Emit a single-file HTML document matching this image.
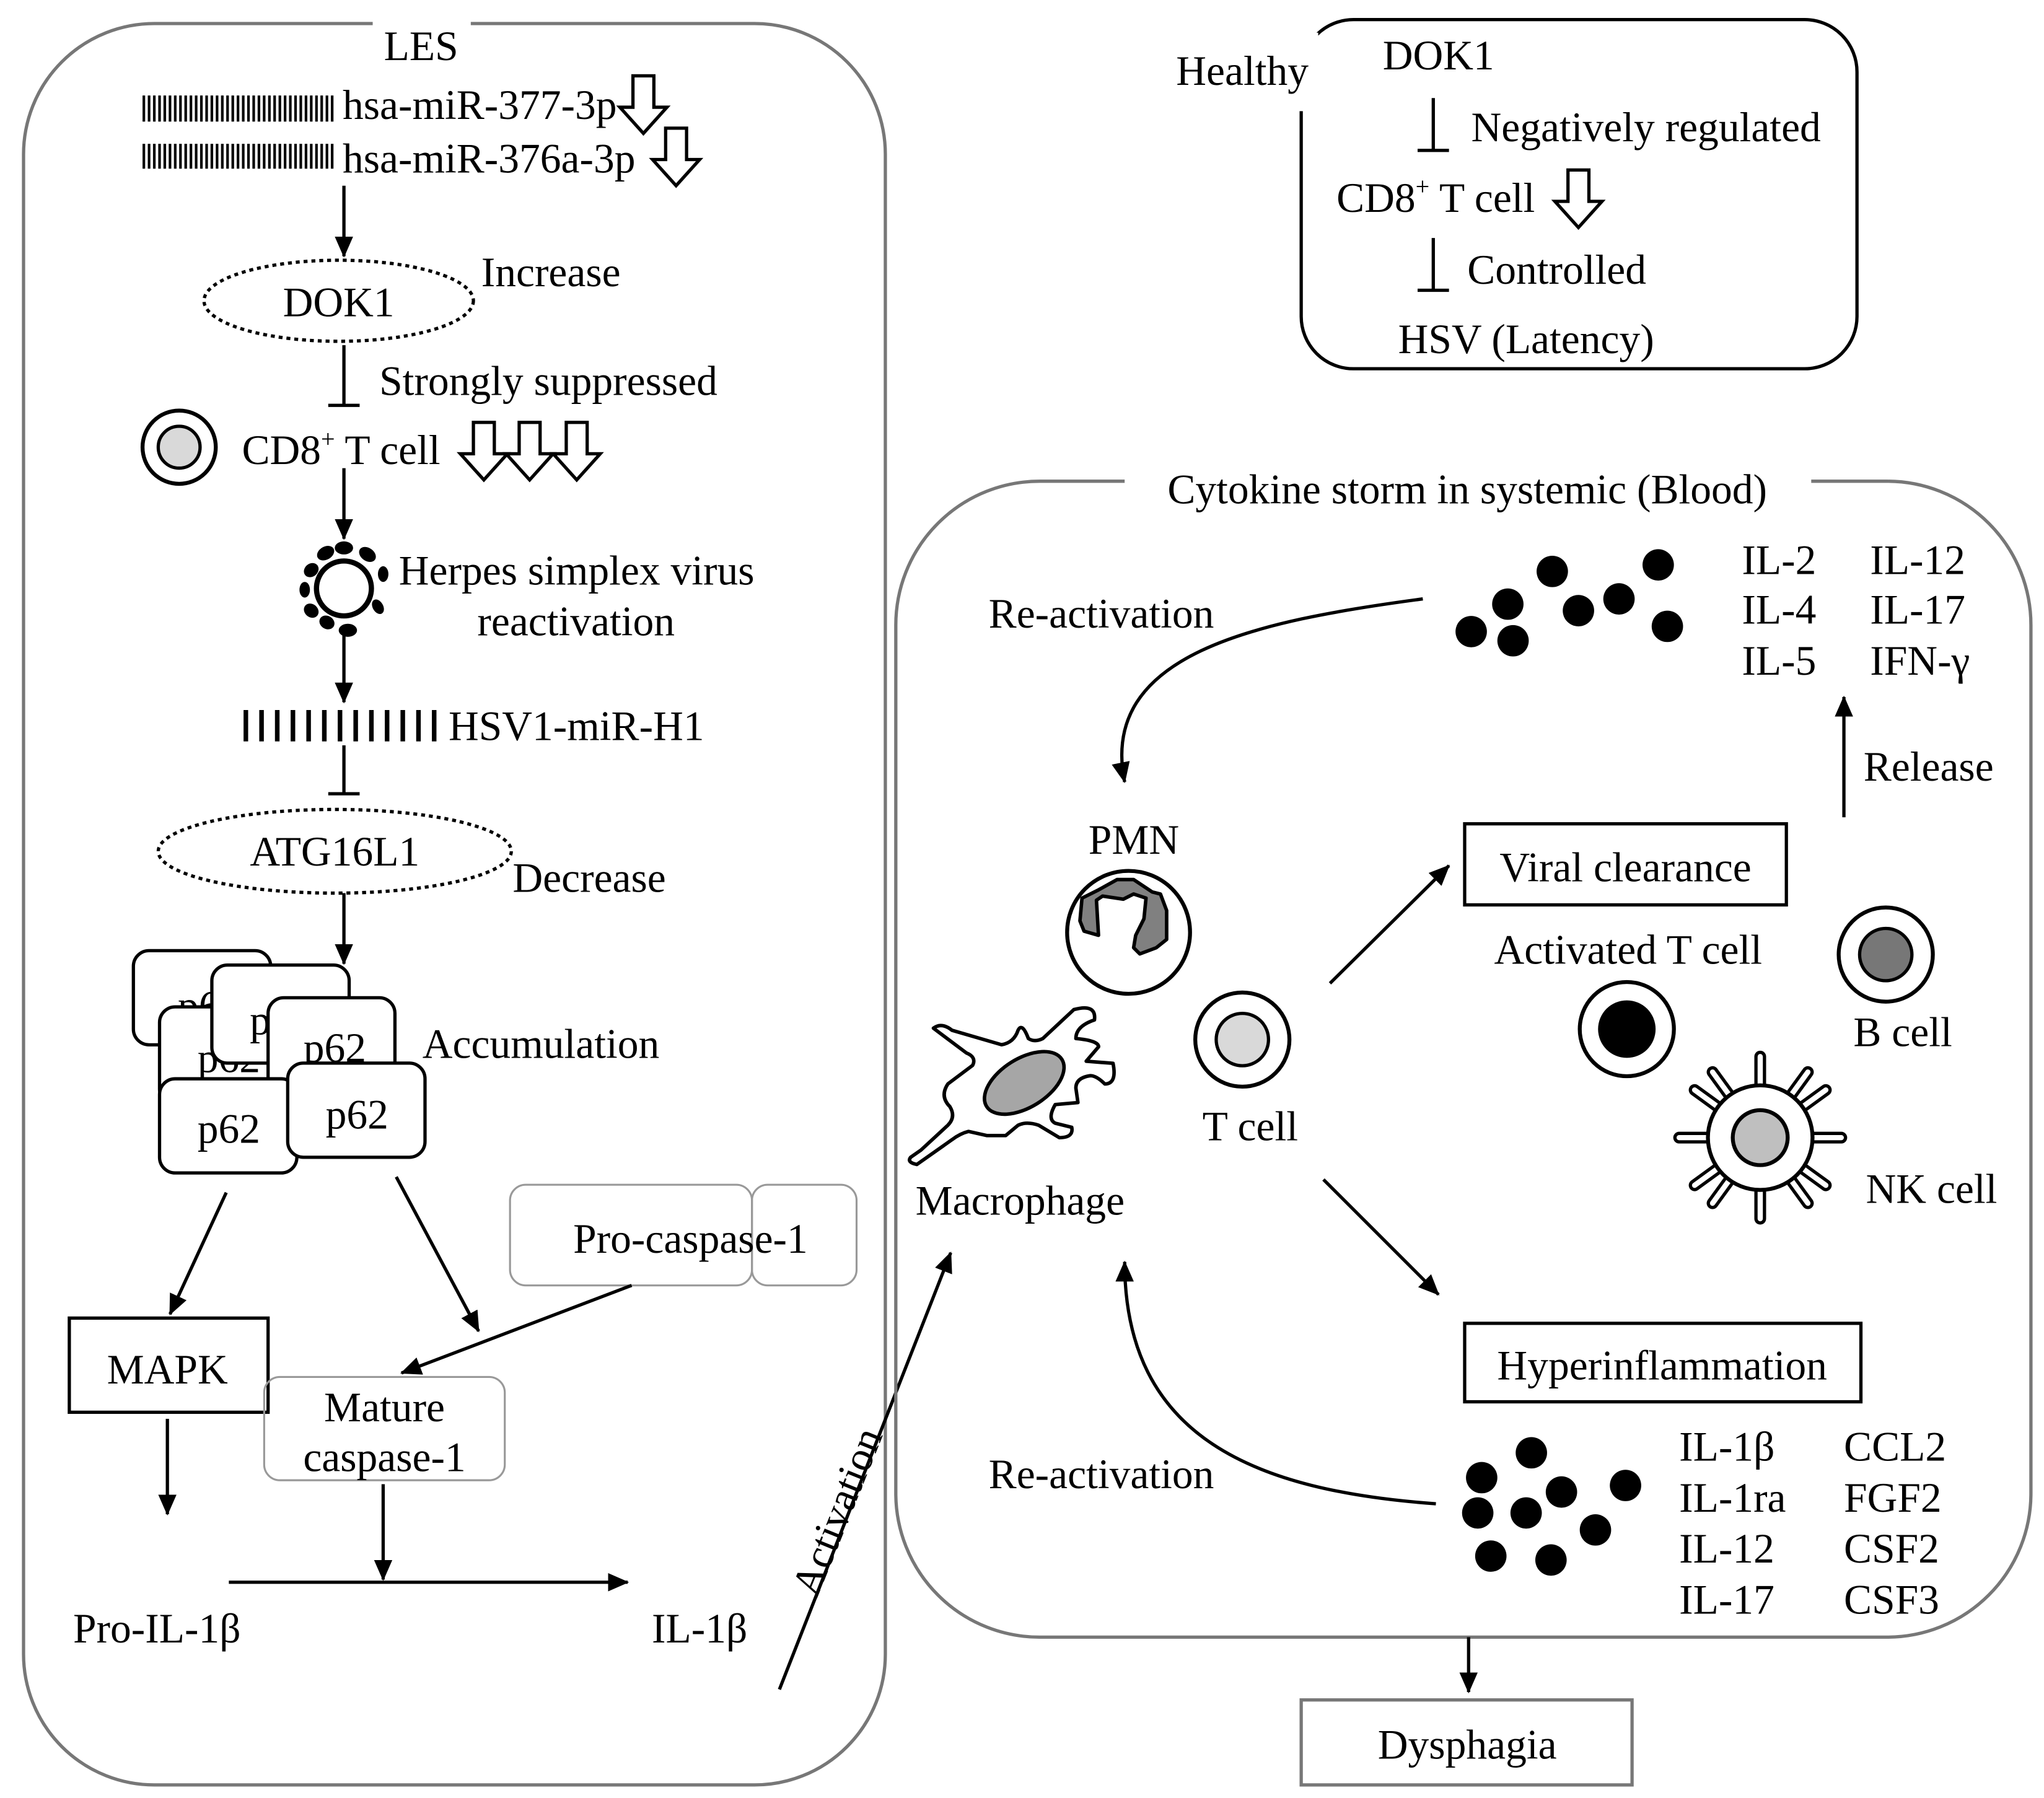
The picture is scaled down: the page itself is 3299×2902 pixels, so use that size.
<!DOCTYPE html>
<html><head><meta charset="utf-8"><style>html,body{margin:0;padding:0;background:#fff}svg{display:block}text{font-family:"Liberation Serif",serif;font-size:32px;fill:#000}</style></head><body>
<svg width="3299" height="2902" viewBox="0 0 1563 1375" preserveAspectRatio="none" xmlns="http://www.w3.org/2000/svg">
<defs>
<marker id="arb" markerWidth="16" markerHeight="14" refX="15" refY="7" orient="auto" markerUnits="userSpaceOnUse"><path d="M0,0 L16,7 L0,14 z" fill="#000"/></marker>
<path id="ha" d="M-8,0 h16 v24 h10 l-18,20 l-18,-20 h10 z" fill="#fff" stroke="#000" stroke-width="2.5"/>
</defs>
<rect width="1563" height="1375" fill="#fff"/>
<rect x="18" y="18" width="659" height="1347" rx="100" fill="none" stroke="#777" stroke-width="2.5"/>
<rect x="285" y="10" width="75" height="20" fill="#fff"/>
<text x="322" y="46" text-anchor="middle">LES</text>
<g stroke="#000" stroke-width="2">
<path d="M110,73 v20 M114,73 v20 M118,73 v20 M122,73 v20 M126,73 v20 M130,73 v20 M134,73 v20 M138,73 v20 M142,73 v20 M146,73 v20 M150,73 v20 M154,73 v20 M158,73 v20 M162,73 v20 M166,73 v20 M170,73 v20 M174,73 v20 M178,73 v20 M182,73 v20 M186,73 v20 M190,73 v20 M194,73 v20 M198,73 v20 M202,73 v20 M206,73 v20 M210,73 v20 M214,73 v20 M218,73 v20 M222,73 v20 M226,73 v20 M230,73 v20 M234,73 v20 M238,73 v20 M242,73 v20 M246,73 v20 M250,73 v20 M254,73 v20"/>
<path d="M110,110 v19 M114,110 v19 M118,110 v19 M122,110 v19 M126,110 v19 M130,110 v19 M134,110 v19 M138,110 v19 M142,110 v19 M146,110 v19 M150,110 v19 M154,110 v19 M158,110 v19 M162,110 v19 M166,110 v19 M170,110 v19 M174,110 v19 M178,110 v19 M182,110 v19 M186,110 v19 M190,110 v19 M194,110 v19 M198,110 v19 M202,110 v19 M206,110 v19 M210,110 v19 M214,110 v19 M218,110 v19 M222,110 v19 M226,110 v19 M230,110 v19 M234,110 v19 M238,110 v19 M242,110 v19 M246,110 v19 M250,110 v19 M254,110 v19"/>
</g>
<g stroke="#000" stroke-width="3.5">
<path d="M188,543 v24 M200,543 v24 M212,543 v24 M224,543 v24 M236,543 v24 M248,543 v24 M260,543 v24 M272,543 v24 M284,543 v24 M296,543 v24 M308,543 v24 M320,543 v24 M332,543 v24"/>
</g>
<text x="262" y="91">hsa-miR-377-3p</text>
<use href="#ha" x="492" y="58"/>
<text x="262" y="132">hsa-miR-376a-3p</text>
<use href="#ha" x="517" y="98"/>
<line x1="263" y1="142" x2="263" y2="196" stroke="#000" stroke-width="2.5" marker-end="url(#arb)"/>
<ellipse cx="259" cy="230" rx="103" ry="31" fill="none" stroke="#000" stroke-width="2.5" stroke-dasharray="3,3"/>
<text x="259" y="242" text-anchor="middle">DOK1</text>
<text x="368" y="219">Increase</text>
<path d="M263,264 V310 M251,310 H275" stroke="#000" stroke-width="2.5"/>
<text x="290" y="302">Strongly suppressed</text>
<circle cx="137" cy="342" r="28" fill="#fff" stroke="#000" stroke-width="3"/>
<circle cx="137" cy="342" r="16" fill="#d9d9d9" stroke="#000" stroke-width="2.5"/>
<text x="185" y="355">CD8<tspan font-size="19" dy="-13">+</tspan><tspan dy="13"> T cell</tspan></text>
<use href="#ha" x="370" y="323"/><use href="#ha" x="405" y="323"/><use href="#ha" x="441" y="323"/>
<line x1="263" y1="358" x2="263" y2="412" stroke="#000" stroke-width="2.5" marker-end="url(#arb)"/>
<g fill="#000">
<circle cx="263" cy="450" r="21" fill="#fff" stroke="#000" stroke-width="4"/>
<ellipse cx="263" cy="419" rx="7" ry="5"/><ellipse cx="281" cy="424" rx="7" ry="5" transform="rotate(35 281 424)"/><ellipse cx="293" cy="439" rx="4" ry="6"/><ellipse cx="289" cy="464" rx="4" ry="6" transform="rotate(-30 289 464)"/><ellipse cx="266" cy="482" rx="7" ry="5"/><ellipse cx="250" cy="476" rx="6" ry="5" transform="rotate(30 250 476)"/><ellipse cx="238" cy="467" rx="6" ry="5" transform="rotate(40 238 467)"/><ellipse cx="233" cy="451" rx="4" ry="6"/><ellipse cx="238" cy="436" rx="6" ry="5" transform="rotate(-40 238 436)"/><ellipse cx="249" cy="423" rx="7" ry="5" transform="rotate(-30 249 423)"/>
</g>
<text x="305" y="447">Herpes simplex virus</text>
<text x="365" y="486">reactivation</text>
<line x1="263" y1="482" x2="263" y2="537" stroke="#000" stroke-width="2.5" marker-end="url(#arb)"/>
<text x="343" y="566">HSV1-miR-H1</text>
<path d="M263,570 V607 M251,607 H275" stroke="#000" stroke-width="2.5"/>
<ellipse cx="256" cy="651" rx="135" ry="32" fill="none" stroke="#000" stroke-width="2.5" stroke-dasharray="3,3"/>
<text x="256" y="662" text-anchor="middle">ATG16L1</text>
<text x="392" y="682">Decrease</text>
<line x1="263" y1="683" x2="263" y2="737" stroke="#000" stroke-width="2.5" marker-end="url(#arb)"/>
<g stroke="#000" stroke-width="2.5" fill="#fff">
<rect x="102" y="727" width="105" height="72" rx="12"/>
<text x="160" y="780" text-anchor="middle" stroke="none">p62</text>
<rect x="122" y="770" width="105" height="75" rx="12"/>
<text x="175" y="820" text-anchor="middle" stroke="none">p62</text>
<rect x="162" y="738" width="105" height="75" rx="12"/>
<text x="215" y="791" text-anchor="middle" stroke="none">p62</text>
<rect x="205" y="763" width="97" height="82" rx="12"/>
<text x="256" y="812" text-anchor="middle" stroke="none">p62</text>
<rect x="122" y="825" width="105" height="72" rx="12"/>
<text x="175" y="874" text-anchor="middle" stroke="none">p62</text>
<rect x="220" y="813" width="105" height="72" rx="12"/>
<text x="273" y="863" text-anchor="middle" stroke="none">p62</text>
</g>
<text x="323" y="809">Accumulation</text>
<line x1="173" y1="912" x2="130" y2="1005" stroke="#000" stroke-width="2.5" marker-end="url(#arb)"/>
<line x1="303" y1="900" x2="366" y2="1018" stroke="#000" stroke-width="2.5" marker-end="url(#arb)"/>
<rect x="390" y="906" width="185" height="77" rx="12" fill="none" stroke="#999" stroke-width="1.5"/>
<rect x="575" y="906" width="80" height="77" rx="12" fill="none" stroke="#999" stroke-width="1.5"/>
<text x="528" y="958" text-anchor="middle">Pro-caspase-1</text>
<rect x="53" y="1008" width="152" height="72" fill="#fff" stroke="#000" stroke-width="2.5"/>
<text x="128" y="1058" text-anchor="middle">MAPK</text>
<line x1="483" y1="983" x2="307" y2="1050" stroke="#000" stroke-width="2.5" marker-end="url(#arb)"/>
<rect x="202" y="1053" width="184" height="79" rx="12" fill="none" stroke="#999" stroke-width="1.5"/>
<text x="294" y="1087" text-anchor="middle">Mature</text>
<text x="294" y="1125" text-anchor="middle">caspase-1</text>
<line x1="128" y1="1085" x2="128" y2="1158" stroke="#000" stroke-width="2.5" marker-end="url(#arb)"/>
<line x1="293" y1="1135" x2="293" y2="1208" stroke="#000" stroke-width="2.5" marker-end="url(#arb)"/>
<line x1="175" y1="1210" x2="480" y2="1210" stroke="#000" stroke-width="2.5" marker-end="url(#arb)"/>
<text x="120" y="1256" text-anchor="middle">Pro-IL-1β</text>
<text x="535" y="1256" text-anchor="middle">IL-1β</text>
<line x1="596" y1="1292" x2="727" y2="958" stroke="#000" stroke-width="2.5" marker-end="url(#arb)"/>
<text x="650" y="1160" text-anchor="middle" transform="rotate(-68 650 1160)">Activation</text>
<rect x="995" y="15" width="425" height="267" rx="40" fill="none" stroke="#000" stroke-width="2.5"/>
<rect x="893" y="25" width="115" height="60" fill="#fff"/>
<text x="950" y="65" text-anchor="middle">Healthy</text>
<text x="1100" y="53" text-anchor="middle">DOK1</text>
<path d="M1096,75 V115 M1084,115 H1108" stroke="#000" stroke-width="2.5"/>
<text x="1125" y="108">Negatively regulated</text>
<text x="1022" y="162">CD8<tspan font-size="19" dy="-13">+</tspan><tspan dy="13"> T cell</tspan></text>
<use href="#ha" x="1207" y="130"/>
<path d="M1096,182 V222 M1084,222 H1108" stroke="#000" stroke-width="2.5"/>
<text x="1122" y="217">Controlled</text>
<text x="1167" y="270" text-anchor="middle">HSV (Latency)</text>
<rect x="685" y="368" width="868" height="884" rx="110" fill="none" stroke="#777" stroke-width="2.5"/>
<rect x="860" y="355" width="525" height="30" fill="#fff"/>
<text x="1122" y="385" text-anchor="middle">Cytokine storm in systemic (Blood)</text>
<g fill="#000">
<circle cx="1187" cy="437" r="12"/><circle cx="1268" cy="432" r="12"/><circle cx="1125" cy="483" r="12"/><circle cx="1153" cy="462" r="12"/><circle cx="1157" cy="490" r="12"/><circle cx="1207" cy="467" r="12"/><circle cx="1238" cy="458" r="12"/><circle cx="1275" cy="479" r="12"/>
<circle cx="1171" cy="1111" r="12"/><circle cx="1133" cy="1130" r="12"/><circle cx="1194" cy="1141" r="12"/><circle cx="1243" cy="1136" r="12"/><circle cx="1130" cy="1157" r="12"/><circle cx="1167" cy="1157" r="12"/><circle cx="1220" cy="1170" r="12"/><circle cx="1140" cy="1190" r="12"/><circle cx="1186" cy="1193" r="12"/>
</g>
<text x="1332" y="439">IL-2</text><text x="1332" y="477">IL-4</text><text x="1332" y="516">IL-5</text>
<text x="1430" y="439">IL-12</text><text x="1430" y="477">IL-17</text><text x="1430" y="516">IFN-γ</text>
<text x="756" y="480">Re-activation</text>
<path d="M1088,458 C960,475 840,500 860,598" fill="none" stroke="#000" stroke-width="2.5" marker-end="url(#arb)"/>
<line x1="1410" y1="625" x2="1410" y2="533" stroke="#000" stroke-width="2.5" marker-end="url(#arb)"/>
<text x="1425" y="597">Release</text>
<text x="867" y="653" text-anchor="middle">PMN</text>
<circle cx="863" cy="713" r="47" fill="#fff" stroke="#000" stroke-width="3"/>
<g transform="translate(795.8,630) scale(0.1579)">
<path d="M200,360 L280,320 L370,270 L450,270 L540,330 L580,340 L610,420 L610,560 L560,600 L480,630 L450,600 L460,540 L500,460 L510,360 L450,340 L400,365 L300,350 L270,370 L280,540 L210,520 L190,470 Z" fill="#808080" stroke="#000" stroke-width="17" stroke-linejoin="round"/>
</g>
<g transform="translate(686.9,734.2) scale(0.1579)">
<path d="M170,330 Q210,300 260,340 L500,410 Q560,400 580,340 Q600,300 630,380 Q660,400 700,380 L850,240 Q960,210 950,290 Q860,320 860,380 Q970,390 970,420 L910,490 L1040,500 Q1060,600 1000,600 Q960,560 930,560 Q860,570 860,620 L870,690 L760,700 Q720,770 760,790 L840,810 Q850,860 780,860 L680,800 Q620,780 580,800 L520,850 L430,850 L340,830 Q300,840 260,870 L90,990 Q40,980 60,955 L110,920 L240,800 Q280,760 250,710 Q200,660 240,600 L360,510 Q380,470 330,450 Z" fill="#fff" stroke="#000" stroke-width="17" stroke-linejoin="round"/>
<ellipse cx="610" cy="595" rx="215" ry="118" transform="rotate(-32 610 595)" fill="#a6a6a6" stroke="#000" stroke-width="17"/>
</g>
<text x="780" y="929" text-anchor="middle">Macrophage</text>
<circle cx="950" cy="795" r="36" fill="#fff" stroke="#000" stroke-width="3"/>
<circle cx="950" cy="795" r="20" fill="#d9d9d9" stroke="#000" stroke-width="2.5"/>
<text x="956" y="872" text-anchor="middle">T cell</text>
<line x1="1017" y1="752" x2="1108" y2="662" stroke="#000" stroke-width="2.5" marker-end="url(#arb)"/>
<rect x="1120" y="630" width="246" height="62" fill="#fff" stroke="#000" stroke-width="2.5"/>
<text x="1243" y="674" text-anchor="middle">Viral clearance</text>
<text x="1245" y="737" text-anchor="middle">Activated T cell</text>
<circle cx="1244" cy="787" r="36" fill="#fff" stroke="#000" stroke-width="3"/>
<circle cx="1244" cy="787" r="22" fill="#000"/>
<circle cx="1442" cy="730" r="36" fill="#fff" stroke="#000" stroke-width="3"/>
<circle cx="1442" cy="730" r="20" fill="#777" stroke="#000" stroke-width="2.5"/>
<text x="1455" y="800" text-anchor="middle">B cell</text>
<g transform="translate(1346,870)">
<g stroke="#000" stroke-width="9" stroke-linecap="round">
<path d="M0,-38 V-62 M0,38 V62 M-38,0 H-62 M38,0 H62"/>
<g transform="rotate(36)"><path d="M0,-38 V-62 M0,38 V62 M-38,0 H-62 M38,0 H62"/></g>
<g transform="rotate(-36)"><path d="M0,-38 V-62 M0,38 V62 M-38,0 H-62 M38,0 H62"/></g>
</g>
<g stroke="#fff" stroke-width="4" stroke-linecap="round">
<path d="M0,-38 V-62 M0,38 V62 M-38,0 H-62 M38,0 H62"/>
<g transform="rotate(36)"><path d="M0,-38 V-62 M0,38 V62 M-38,0 H-62 M38,0 H62"/></g>
<g transform="rotate(-36)"><path d="M0,-38 V-62 M0,38 V62 M-38,0 H-62 M38,0 H62"/></g>
</g>
<circle r="40" fill="#fff" stroke="#000" stroke-width="3"/>
<circle r="21" fill="#bfbfbf" stroke="#000" stroke-width="3"/>
</g>
<text x="1477" y="920" text-anchor="middle">NK cell</text>
<line x1="1012" y1="902" x2="1100" y2="990" stroke="#000" stroke-width="2.5" marker-end="url(#arb)"/>
<rect x="1120" y="1012" width="303" height="60" fill="#fff" stroke="#000" stroke-width="2.5"/>
<text x="1271" y="1055" text-anchor="middle">Hyperinflammation</text>
<text x="756" y="1138">Re-activation</text>
<path d="M1098,1150 C960,1140 860,1100 860,965" fill="none" stroke="#000" stroke-width="2.5" marker-end="url(#arb)"/>
<text x="1284" y="1117">IL-1β</text><text x="1284" y="1156">IL-1ra</text><text x="1284" y="1195">IL-12</text><text x="1284" y="1234">IL-17</text>
<text x="1410" y="1117">CCL2</text><text x="1410" y="1156">FGF2</text><text x="1410" y="1195">CSF2</text><text x="1410" y="1234">CSF3</text>
<line x1="1123" y1="1252" x2="1123" y2="1294" stroke="#000" stroke-width="2.5" marker-end="url(#arb)"/>
<rect x="995" y="1300" width="253" height="65" fill="none" stroke="#777" stroke-width="2.5"/>
<text x="1122" y="1345" text-anchor="middle">Dysphagia</text>
</svg>
</body></html>
